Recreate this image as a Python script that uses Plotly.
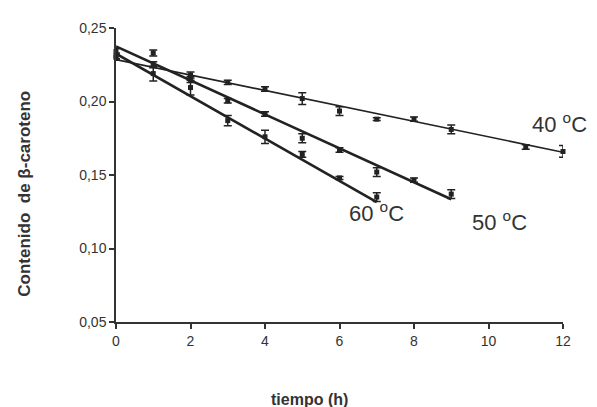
import plotly.graph_objects as go

# Data
t40 = [0, 1, 2, 3, 4, 5, 6, 7, 8, 9, 11, 12]
y40 = [0.231, 0.233, 0.218, 0.213, 0.2085, 0.202, 0.1935, 0.188, 0.188, 0.181, 0.169, 0.166]
e40 = [0.002, 0.002, 0.002, 0.0015, 0.0015, 0.004, 0.003, 0.001, 0.0015, 0.003, 0.0015, 0.004]

t50 = [0, 1, 2, 3, 4, 5, 6, 7, 8, 9]
y50 = [0.234, 0.225, 0.215, 0.2005, 0.1915, 0.175, 0.167, 0.152, 0.1465, 0.137]
e50 = [0.002, 0.002, 0.002, 0.0015, 0.0015, 0.003, 0.0015, 0.003, 0.0015, 0.003]

t60 = [0, 1, 2, 3, 4, 5, 6, 7]
y60 = [0.230, 0.219, 0.2095, 0.187, 0.176, 0.164, 0.148, 0.135]
e60 = [0.002, 0.005, 0.005, 0.0035, 0.0045, 0.002, 0.001, 0.003]

# Linear trend lines (endpoints)
fit40_t = [0, 12]
fit40_y = [0.2285, 0.1655]
fit50_t = [0, 9]
fit50_y = [0.2375, 0.1335]
fit60_t = [0, 7]
fit60_y = [0.2325, 0.1315]

x_ticks = [0, 2, 4, 6, 8, 10, 12]
y_ticks = [0.05, 0.10, 0.15, 0.20, 0.25]
y_ticktext = ["0,05", "0,10", "0,15", "0,20", "0,25"]

labels = ["40 <sup>o</sup>C", "50 <sup>o</sup>C", "60 <sup>o</sup>C"]
label_x = [11.9, 10.3, 7.0]
label_y = [0.1855, 0.1185, 0.1245]

ink = "#222222"
txtc = "#333333"
fam = "Liberation Sans, Arial"
fig = go.Figure()

for tt, yy, w in [(fit40_t, fit40_y, 1.6), (fit50_t, fit50_y, 2.6), (fit60_t, fit60_y, 2.6)]:
    fig.add_trace(go.Scatter(x=tt, y=yy, mode="lines",
                             line=dict(color=ink, width=w),
                             showlegend=False, hoverinfo="skip", cliponaxis=False))

for tt, yy, ee in [(t40, y40, e40), (t50, y50, e50), (t60, y60, e60)]:
    fig.add_trace(go.Scatter(x=tt, y=yy, mode="markers",
                             marker=dict(symbol="square", size=5, color=ink),
                             error_y=dict(type="data", array=ee, visible=True,
                                          color=ink, thickness=1.5, width=4),
                             showlegend=False, cliponaxis=False))

for txt, lx, ly in zip(labels, label_x, label_y):
    fig.add_annotation(x=lx, y=ly, text=txt, showarrow=False,
                       xanchor="center", yanchor="middle",
                       font=dict(family=fam, size=22, color=txtc))

fig.add_annotation(x=-0.2045, xref="paper", y=0.435, yref="paper",
                   text="<b>Contenido  de β-caroteno</b>", textangle=-90,
                   showarrow=False, xanchor="center", yanchor="middle",
                   font=dict(family=fam, size=17, color=txtc))
fig.add_annotation(x=5.2, y=-0.263, yref="paper",
                   text="<b>tiempo (h)</b>", showarrow=False,
                   xanchor="center", yanchor="middle",
                   font=dict(family=fam, size=16, color=txtc))

fig.update_layout(
    width=589, height=399,
    margin=dict(l=108, r=34, t=17, b=85),
    paper_bgcolor="white", plot_bgcolor="white",
    font=dict(family=fam, size=14, color=txtc),
    xaxis=dict(range=[0, 12], tickvals=x_ticks, showgrid=False, zeroline=False,
               showline=True, linecolor="#333333", linewidth=1.5,
               ticks="outside", ticklen=5, tickcolor="#333333", tickwidth=1.5,
               tickfont=dict(size=14, color=txtc)),
    yaxis=dict(range=[0.05, 0.25], tickvals=y_ticks, ticktext=y_ticktext,
               showgrid=False, zeroline=False,
               showline=True, linecolor="#333333", linewidth=1.5,
               ticks="outside", ticklen=5, tickcolor="#333333", tickwidth=1.5,
               tickfont=dict(size=14, color=txtc)),
)

fig.write_html("out.html")
